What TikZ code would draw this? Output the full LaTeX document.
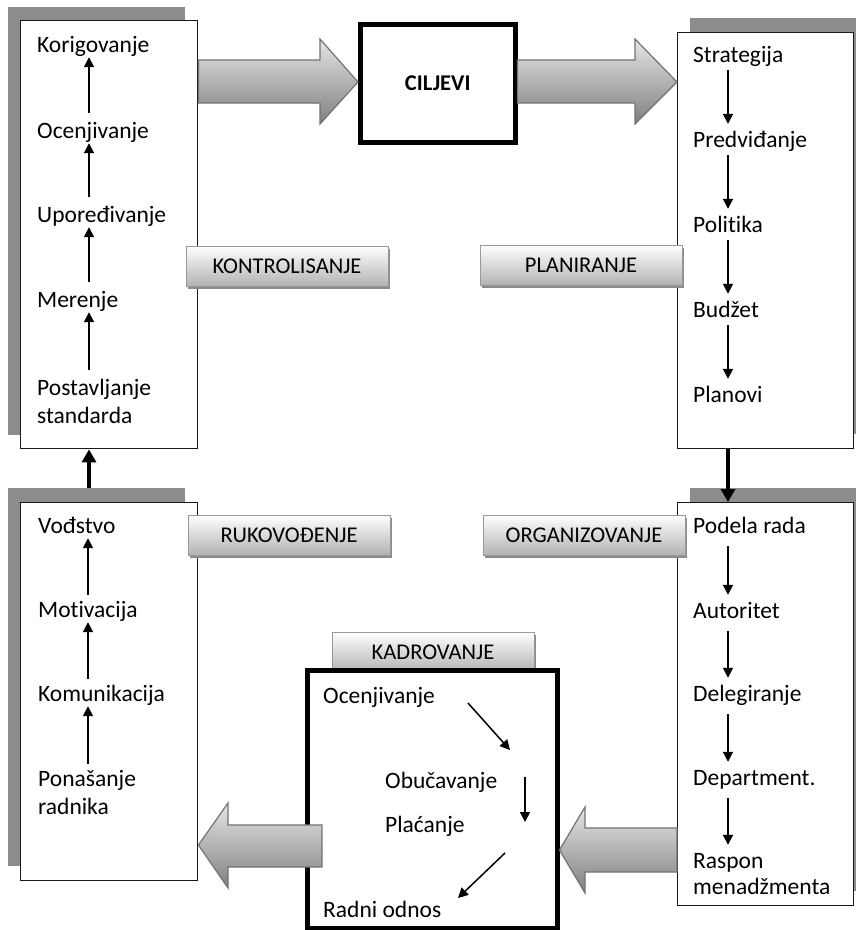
\documentclass[tikz,border=0pt]{standalone}
\usepackage{fontspec}
\setmainfont{Carlito}[Ligatures=NoCommon]
\usetikzlibrary{arrows.meta,shadows,calc}
\begin{document}
\begin{tikzpicture}[x=1pt,y=-1pt,
  txt/.style={anchor=base west, inner sep=0pt, text height=15pt, text depth=5pt, font=\fontsize{23.5}{28}\selectfont},
  shadowbox/.style={anchor=north west, fill=black!45, inner sep=0pt},
  mainbox/.style={anchor=north west, draw=black!90, line width=1.4pt, fill=white, inner sep=0pt},
  heavybox/.style={anchor=north west, draw=black, line width=4.5pt, fill=white, inner sep=0pt},
  lbl/.style={draw=black!40, line width=0.8pt, top color=white, bottom color=black!30, minimum width=202pt, minimum height=40pt, inner sep=0pt, font=\fontsize{22.5}{26}\selectfont, drop shadow={shadow xshift=2pt, shadow yshift=-3pt, fill=black!45, opacity=1}},
  smallarr/.style={line width=1.8pt, -{Triangle[length=10pt,width=10pt]}},
  thickarr/.style={line width=4.5pt, -{Triangle[length=13pt,width=14pt]}},
  bigarrow/.style={draw=black!55, line width=1.2pt, top color=black!10, bottom color=black!50, line join=miter}
]
\useasboundingbox (0,0) rectangle (856,930);
\fill[white] (0,0) rectangle (856,930);

% shadows
\node[shadowbox, minimum width=177pt, minimum height=428pt] (ksh) at (8,7) {};
\node[shadowbox, minimum width=176pt, minimum height=416pt] (psh) at (690,18) {};
\node[shadowbox, minimum width=177pt, minimum height=378pt] (rsh) at (8,488) {};
\node[shadowbox, minimum width=176pt, minimum height=403pt] (osh) at (690,488) {};

% main boxes
\node[mainbox, minimum width=177pt, minimum height=428pt] (kbox) at (20,20) {};
\node[mainbox, minimum width=176pt, minimum height=416pt] (pbox) at (677,32) {};
\node[mainbox, minimum width=177pt, minimum height=378pt] (rbox) at (20,502) {};
\node[mainbox, minimum width=176pt, minimum height=403pt] (obox) at (677,502) {};
\node[heavybox, minimum width=155pt, minimum height=118pt] (cil) at (358,22) {};
\node[font=\fontsize{22.5}{26}\selectfont\bfseries] (ciltxt) at (cil.center) {CILJEVI};

% Kontrolisanje texts
\node[txt] (k1) at (37,52) {Korigovanje};
\node[txt] (k2) at (37,138) {Ocenjivanje};
\node[txt] (k3) at (37,222) {Upoređivanje};
\node[txt] (k4) at (37,307) {Merenje};
\node[txt] (k5) at (37,395) {Postavljanje};
\node[txt] (k5b) at (37,423) {standarda};
\coordinate (kx) at (89,0);
\foreach \a/\b in {k2/k1,k3/k2,k4/k3,k5/k4}
  \draw[smallarr, shorten <=10pt] (\a.north -| kx) -- (\b.south -| kx);

% Planiranje texts
\node[txt] (p1) at (693,62) {Strategija};
\node[txt] (p2) at (693,147) {Predviđanje};
\node[txt] (p3) at (693,232) {Politika};
\node[txt] (p4) at (693,317) {Budžet};
\node[txt] (p5) at (693,402) {Planovi};
\coordinate (px) at (728,0);
\foreach \a/\b in {p1/p2,p2/p3,p3/p4,p4/p5}
  \draw[smallarr, shorten <=3pt, shorten >=8pt] (\a.south -| px) -- (\b.north -| px);

% Rukovodjenje texts
\node[txt] (r1) at (38,533) {Vođstvo};
\node[txt] (r2) at (38,617) {Motivacija};
\node[txt] (r3) at (38,701) {Komunikacija};
\node[txt] (r4) at (38,786) {Ponašanje};
\node[txt] (r4b) at (38,814) {radnika};
\coordinate (rx) at (88,0);
\foreach \a/\b in {r2/r1,r3/r2,r4/r3}
  \draw[smallarr, shorten <=7pt] (\a.north -| rx) -- (\b.south -| rx);

% Organizovanje texts
\node[txt] (o1) at (693,533) {Podela rada};
\node[txt] (o2) at (693,618) {Autoritet};
\node[txt] (o3) at (693,701) {Delegiranje};
\node[txt] (o4) at (693,785) {Department.};
\node[txt] (o5) at (693,868) {Raspon};
\node[txt] (o5b) at (693,894) {menadžmenta};
\foreach \a/\b in {o1/o2,o2/o3,o3/o4,o4/o5}
  \draw[smallarr, shorten <=8pt, shorten >=8pt] (\a.south -| px) -- (\b.north -| px);

% thick connectors between boxes
\draw[thickarr] (rsh.north -| kx) -- (kbox.south -| kx);
\draw[thickarr] (pbox.south -| px) -- (obox.north -| px);

% big arrows top
\path[bigarrow] (kbox.east |- 0,60) -- (320,60) -- (320,39) -- (cil.west |- 0,82) -- (320,124) -- (320,103) -- (kbox.east |- 0,103) -- cycle;
\path[bigarrow] (cil.east |- 0,60) -- (635,60) -- (635,39) -- (pbox.west |- 0,82) -- (635,124) -- (635,103) -- (cil.east |- 0,103) -- cycle;

% labels
\node[lbl] (lk) at (287,266) {KONTROLISANJE};
\node[lbl] (lp) at (581,265) {PLANIRANJE};
\node[lbl] (lr) at (289,535) {RUKOVOĐENJE};
\node[lbl] (lo) at (584,535) {ORGANIZOVANJE};
\node[lbl] (lkad) at (433,652) {KADROVANJE};

% Kadrovanje box
\node[heavybox, minimum width=250pt, minimum height=258pt] (kad) at (305,668) {};
\node[txt] (c1) at (323,703) {Ocenjivanje};
\node[txt] (c2) at (385,788) {Obučavanje};
\node[txt] (c3) at (385,832) {Plaćanje};
\node[txt] (c4) at (323,917) {Radni odnos};
\coordinate (d1a) at (468,703);
\coordinate (d1b) at (510,750);
\coordinate (d2a) at (525,777);
\coordinate (d2b) at (525,822);
\coordinate (d3a) at (505,853);
\coordinate (d3b) at (458,898);
\draw[smallarr, line width=1.5pt] (d1a) -- (d1b);
\draw[smallarr, line width=1.5pt] (d2a) -- (d2b);
\draw[smallarr, line width=1.5pt] (d3a) -- (d3b);

% big arrows bottom
\path[bigarrow] (obox.west |- 0,828) -- (585,828) -- (585,807) -- (kad.east |- 0,850) -- (585,893) -- (585,872) -- (obox.west |- 0,872) -- cycle;
\path[bigarrow] (322,825) -- (228,825) -- (228,803) -- (rbox.east |- 0,845) -- (228,888) -- (228,867) -- (322,867) -- cycle;
\end{tikzpicture}
\end{document}
